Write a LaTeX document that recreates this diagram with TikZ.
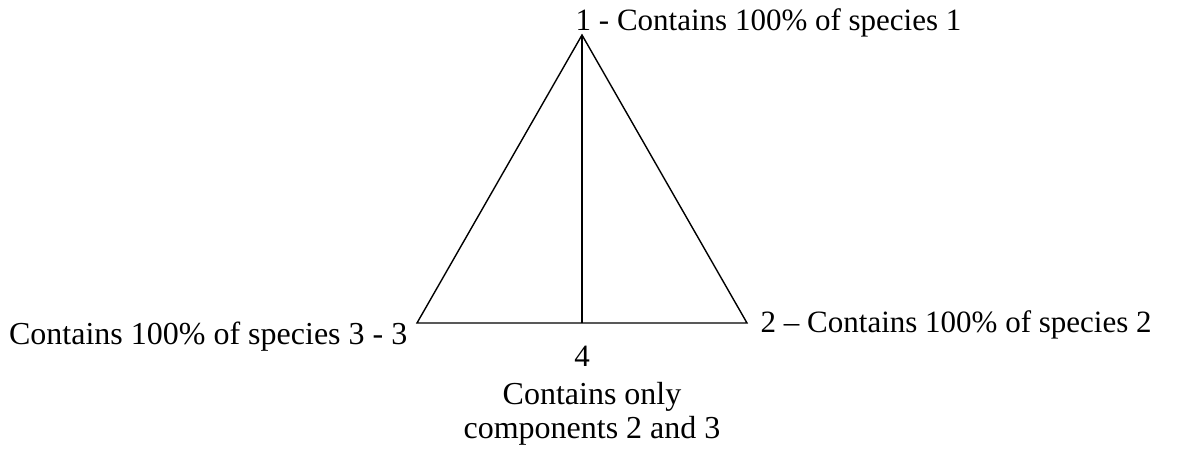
\documentclass[tikz,border=0pt]{standalone}
\usepackage{fontspec}
\setmainfont{Liberation Serif}
\usepackage{tikz}
\usetikzlibrary{calc}

\tikzset{lbl/.style={inner sep=0pt,font=\fontsize{31}{34}\selectfont},
	lblbig/.style={lbl,font=\fontsize{32}{34}\selectfont}}

\begin{document}
\begin{tikzpicture}[x=1pt,y=1pt,line width=1.4pt]
		\useasboundingbox (0,0) rectangle (1181,450);
		\coordinate (v1) at (582,415);
		\coordinate (v2) at (747,127);
		\coordinate (v3) at (417,127);
		\coordinate (v4) at (582,127);
		\draw (v1)--(v2)--(v3)--cycle;
		\draw (v1)--(v4);
		\node[lbl,anchor=base west] (l1) at (575,419) {1 - Contains 100\% of species 1};
		\node[lbl,anchor=base west] (l2) at (760,117) {2 -- Contains 100\% of species 2};
		\node[lblbig,anchor=base east] (l3) at (408,105) {Contains 100\% of species 3 - 3};
		\node[lbl,anchor=base] (l4) at (582,83) {4};
		\node[lblbig,anchor=north,align=center] (l5) at (592,68) {Contains only\\components 2 and 3};
	\end{tikzpicture}
\end{document}
